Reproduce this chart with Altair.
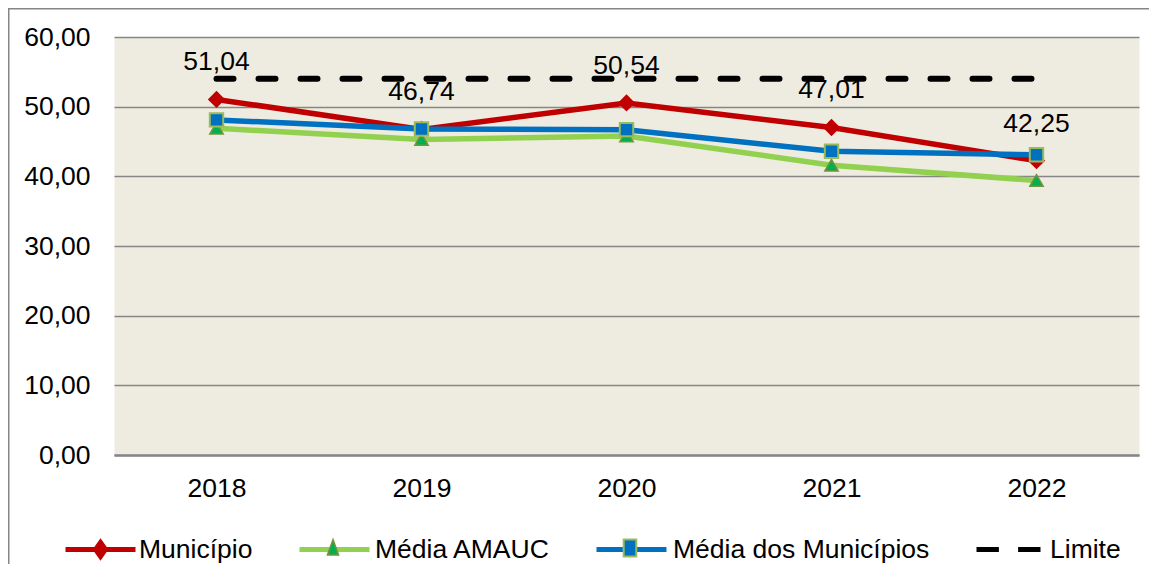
import altair as alt
import pandas as pd

anos = ["2018", "2019", "2020", "2021", "2022"]
municipio = [51.04, 46.74, 50.54, 47.01, 42.25]
media_amauc = [46.9, 45.3, 45.8, 41.6, 39.4]
media_municipios = [48.1, 46.8, 46.7, 43.6, 43.1]
limite = [54.0, 54.0, 54.0, 54.0, 54.0]
nomes = ["Município", "Média AMAUC", "Média dos Municípios", "Limite"]
y_ticks = [0, 10, 20, 30, 40, 50, 60]

FONT = "Liberation Sans"
FS = 26.5
W, H = 1025, 418
GRID = "#868686"


def frame(name, vals):
    return pd.DataFrame({"ano": anos, "valor": vals, "serie": name})


x_enc = alt.X(
    "ano:O",
    sort=anos,
    scale=alt.Scale(type="point", padding=0.5),
    axis=alt.Axis(
        title=None, labelAngle=0, ticks=False, domain=True, domainColor=GRID,
        domainWidth=2.5, grid=False, labelFontSize=FS, labelPadding=20,
        labelColor="black", labelFont=FONT,
    ),
)
y_enc = alt.Y(
    "valor:Q",
    scale=alt.Scale(domain=[0, 60], nice=False, zero=True),
    axis=alt.Axis(
        title=None, values=y_ticks,
        labelExpr="replace(format(datum.value, '.2f'), '.', ',')",
        grid=True, gridColor=GRID, gridWidth=1.5, domain=False, ticks=False,
        labelPadding=24, labelFontSize=FS, labelColor="black", labelFont=FONT,
    ),
)


def leg(lx, ly, size, path, fill, offset, stroke_w=5, stroke_col=None, marker_only=False):
    kw = dict(
        title=None, orient="none", legendX=lx, legendY=ly, direction="horizontal",
        symbolType=path, symbolSize=size, symbolStrokeWidth=stroke_w, symbolFillColor=fill,
        labelFontSize=FS, labelFont=FONT, labelColor="black", labelOffset=offset,
        labelLimit=500,
    )
    if stroke_col is not None:
        kw["symbolStrokeColor"] = stroke_col
    if marker_only:
        kw["labelExpr"] = "''"
    return alt.Legend(**kw)


def color_enc(name, color, legend):
    return alt.Color("serie:N", scale=alt.Scale(domain=[name], range=[color]), legend=legend)


border = alt.Chart(alt.Data(values=[{"a": 1}])).mark_rect(
    fillOpacity=0, stroke=GRID, strokeWidth=1.5
).encode(
    x=alt.value(-105.25), x2=alt.value(1300), y=alt.value(-28.25), y2=alt.value(800)
)

layers = [border]
LY = 475

# Município
d_mun = frame(nomes[0], municipio)
layers.append(
    alt.Chart(d_mun).mark_line(strokeWidth=5.5).encode(
        x=x_enc, y=y_enc,
        color=color_enc(nomes[0], "#C00000",
                        leg(-51, LY, 4900, "M-1,0H1M0,-0.2L0.14,0L0,0.2L-0.14,0Z", "#C00000", 1)),
    )
)
layers.append(
    alt.Chart(d_mun).mark_point(shape="diamond", filled=True, size=300, color="#C00000", opacity=1).encode(
        x=x_enc, y=y_enc
    )
)

# Média AMAUC
d_am = frame(nomes[1], media_amauc)
layers.append(
    alt.Chart(d_am).mark_line(strokeWidth=5.5).encode(
        x=x_enc, y=y_enc,
        color=color_enc(nomes[1], "#92D050",
                        leg(183, LY, 4900, "M-1,0H1", "transparent", 3)),
    )
)
layers.append(
    alt.Chart(d_am).mark_point(shape="triangle-up", filled=True, size=180,
                               stroke="#77933C", strokeWidth=1.5, opacity=1).encode(
        x=x_enc, y=y_enc,
        color=color_enc(nomes[1], "#00B050",
                        leg(183, LY, 4900, "M0,-0.24L0.16,0.2L-0.16,0.2Z", "#00B050", 3,
                            stroke_w=1.5, stroke_col="#77933C", marker_only=True)),
    )
)

# Média dos Municípios
d_mm = frame(nomes[2], media_municipios)
layers.append(
    alt.Chart(d_mm).mark_line(strokeWidth=5.5).encode(
        x=x_enc, y=y_enc,
        color=color_enc(nomes[2], "#0070C0",
                        leg(480, LY, 4900, "M-1,0H1", "transparent", 4)),
    )
)
layers.append(
    alt.Chart(d_mm).mark_point(shape="square", filled=True, size=180,
                               stroke="#9BBB59", strokeWidth=2, opacity=1).encode(
        x=x_enc, y=y_enc,
        color=color_enc(nomes[2], "#0070C0",
                        leg(480, LY, 4900, "M-0.18,-0.24H0.18V0.24H-0.18Z", "#0070C0", 4,
                            stroke_w=2, stroke_col="#9BBB59", marker_only=True)),
    )
)

# Rótulos do Município
layers.append(
    alt.Chart(d_mun).transform_calculate(
        rotulo="replace(format(datum.valor, '.2f'), '.', ',')"
    ).mark_text(dy=-37, fontSize=FS, font=FONT, color="black").encode(
        x=x_enc, y=y_enc, text="rotulo:N"
    )
)

# Limite
d_lim = frame(nomes[3], limite)
layers.append(
    alt.Chart(d_lim).mark_line(strokeWidth=6, strokeDash=[17, 25], strokeCap="round").encode(
        x=x_enc, y=y_enc,
        color=color_enc(nomes[3], "#000000",
                        leg(860, LY + 3, 4096, "M-1,0H-0.3M0.3,0H1", "transparent", 7)),
    )
)

chart = alt.layer(*layers).resolve_scale(color="independent").properties(
    width=W, height=H,
    padding={"left": 106, "top": 29, "right": 10, "bottom": 109},
    autosize=alt.AutoSizeParams(type="none"),
    background="white",
).configure_view(fill="#EEECE1", stroke="transparent")

chart.save("out.html", embed_options={"renderer": "svg", "actions": False})
